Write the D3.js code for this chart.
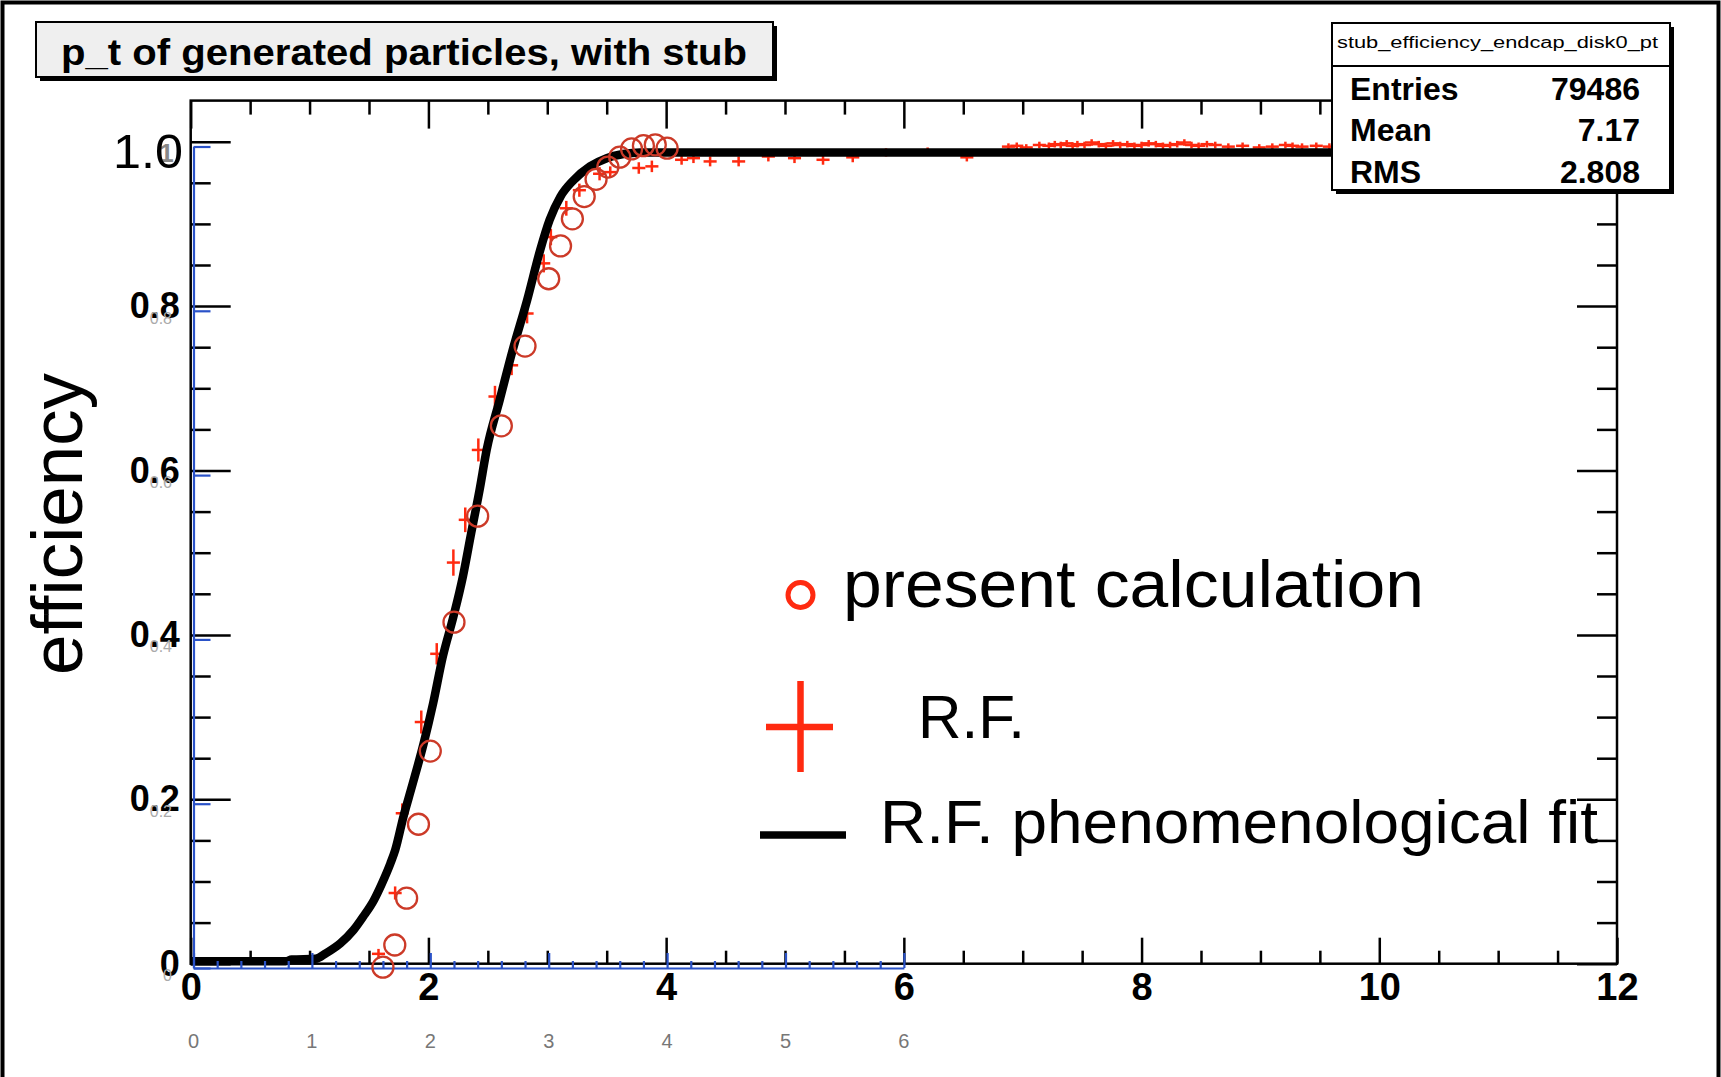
<!DOCTYPE html>
<html lang="en">
<head>
<meta charset="utf-8" />
<title>stub efficiency endcap disk0</title>
<script src="https://d3js.org/d3.v7.min.js"></script>
<style>
    html, body { margin:0; padding:0; overflow:hidden; background-color:#fff }
    svg { display:block }
    text { font-family: "Liberation Sans", Arial, Helvetica, sans-serif }
</style>
</head>
<body>
<svg id="svg" width="1721" height="1077"></svg>
<script>

// present calculation (open circles, overlaid plot with the blue axes)
let calcX = [1.6, 1.7, 1.8, 1.9, 2.0, 2.2, 2.4, 2.6, 2.8, 3.0, 3.1, 3.2, 3.3, 3.4, 3.5, 3.6, 3.7, 3.8, 3.9, 4.0];
let calcY = [0.001, 0.028, 0.085, 0.175, 0.264, 0.421, 0.550, 0.660, 0.757, 0.839, 0.879, 0.912, 0.939, 0.960, 0.975, 0.987, 0.997, 1.001, 1.002, 0.998];

// R.F. histogram (red crosses)
let rfX = [1.58, 1.72, 1.78, 1.94, 2.07, 2.21, 2.31, 2.42, 2.56, 2.70,
           2.83, 2.97, 3.03, 3.16, 3.27, 3.44, 3.53, 3.77, 3.88, 4.13,
           4.23, 4.37, 4.61, 4.86, 5.08, 5.32, 5.57, 5.85, 6.20, 6.53,
           6.88, 6.95, 7.03, 7.14, 7.22, 7.27, 7.32, 7.37, 7.42, 7.46,
           7.52, 7.58, 7.64, 7.70, 7.76, 7.82, 7.88, 7.94, 8.00, 8.06,
           8.12, 8.18, 8.24, 8.30, 8.36, 8.42, 8.48, 8.55, 8.62, 8.73,
           8.85, 8.99, 9.10, 9.21, 9.27, 9.35, 9.47, 9.58];
let rfY = [0.012, 0.086, 0.183, 0.294, 0.377, 0.488, 0.540, 0.625, 0.690, 0.728,
           0.791, 0.852, 0.884, 0.919, 0.941, 0.961, 0.963, 0.968, 0.970, 0.978,
           0.980, 0.976, 0.976, 0.982, 0.980, 0.978, 0.981, 0.987, 0.988, 0.981,
           0.994, 0.995, 0.993, 0.996, 0.995, 0.997, 0.996, 0.998, 0.995, 0.997,
           0.996, 0.999, 0.997, 0.995, 0.998, 0.996, 0.997, 0.995, 0.996, 0.998,
           0.997, 0.995, 0.996, 0.997, 0.999, 0.996, 0.995, 0.997, 0.996, 0.994,
           0.995, 0.993, 0.994, 0.996, 0.995, 0.994, 0.995, 0.994];
let rfErr = [0.006, 0.008, 0.012, 0.014, 0.013, 0.016, 0.015, 0.014, 0.013, 0.012,
             0.012, 0.011, 0.010, 0.009, 0.008, 0.008, 0.007, 0.007, 0.007, 0.006,
             0.006, 0.006, 0.006, 0.006, 0.006, 0.006, 0.006, 0.005, 0.005, 0.005,
             0.004, 0.004, 0.004, 0.004, 0.004, 0.004, 0.004, 0.004, 0.004, 0.004,
             0.004, 0.004, 0.004, 0.004, 0.004, 0.004, 0.004, 0.004, 0.004, 0.004,
             0.004, 0.004, 0.004, 0.004, 0.004, 0.004, 0.004, 0.004, 0.004, 0.004,
             0.004, 0.004, 0.004, 0.004, 0.004, 0.004, 0.004, 0.004];
let rfBinHalf = 0.055;

// R.F. phenomenological fit
let fitX = [0, 0.80, 0.85, 1.05, 1.14, 1.26, 1.37, 1.45, 1.54, 1.61, 1.68, 1.72, 1.79, 1.86,
            1.96, 2.04, 2.12, 2.21, 2.29, 2.36, 2.43, 2.49, 2.60, 2.71, 2.83, 2.94, 3.02,
            3.11, 3.22, 3.36, 3.50, 3.64, 3.78, 4.06, 12];
let fitY = [0.003, 0.003, 0.005, 0.006, 0.013, 0.025, 0.041, 0.057, 0.077, 0.098, 0.122, 0.138, 0.179, 0.215,
            0.268, 0.317, 0.373, 0.422, 0.471, 0.524, 0.576, 0.625, 0.686, 0.747, 0.807, 0.868, 0.905,
            0.933, 0.953, 0.970, 0.980, 0.985, 0.987, 0.987, 0.987];

let xMajor = [0, 2, 4, 6, 8, 10, 12];
let xMinor = [0.5, 1, 1.5, 2.5, 3, 3.5, 4.5, 5, 5.5, 6.5, 7, 7.5, 8.5, 9, 9.5, 10.5, 11, 11.5];
let yMajor = [0, 0.2, 0.4, 0.6, 0.8, 1];
let yLabels = ["0", "0.2", "0.4", "0.6", "0.8", "1"];
let yMinor = [0.05, 0.1, 0.15, 0.25, 0.3, 0.35, 0.45, 0.5, 0.55, 0.65, 0.7, 0.75, 0.85, 0.9, 0.95];

let ovXMajor = [0, 1, 2, 3, 4, 5, 6];
let ovXMinor = [0.2, 0.4, 0.6, 0.8, 1.2, 1.4, 1.6, 1.8, 2.2, 2.4, 2.6, 2.8, 3.2, 3.4, 3.6, 3.8, 4.2, 4.4, 4.6, 4.8, 5.2, 5.4, 5.6, 5.8];
let ovYGhost = ["0", "0.2", "0.4", "0.6", "0.8"];

let title = "p_t of generated particles, with stub";
let statsTitle = "stub_efficiency_endcap_disk0_pt";
let statsNames = ["Entries", "Mean", "RMS"];
let statsValues = ["79486", "7.17", "2.808"];
let legendLabels = ["present calculation", "R.F.", "R.F. phenomenological fit"];

let svg = d3.select("svg");
let red = "#ff2a10";
let blue = "#2a52c8";

// outer border
svg.append("rect")
    .attr("x", 2.5).attr("y", 2.5).attr("width", 1716).attr("height", 1110)
    .attr("fill", "none").attr("stroke", "#000").attr("stroke-width", 4);

// ROOT frame
let x = d3.scaleLinear().domain([0, 12]).range([190.7, 1617]);
let y = d3.scaleLinear().domain([0, 1.05]).range([963.7, 100.6]);

let root = svg.append("g");

function ticks(axis, size, vals, fmt) {
    let g = root.append("g").call(axis.tickValues(vals).tickSizeInner(size).tickSizeOuter(0).tickFormat(fmt || ""));
    g.select(".domain").remove();
    g.selectAll("line").attr("stroke", "#000").attr("stroke-width", 2.5);
    return g;
}

let gxb = ticks(d3.axisBottom(x).tickPadding(9), -26, xMajor, d3.format("d"));
gxb.attr("transform", "translate(0," + y(0) + ")");
gxb.selectAll("text").attr("font-size", 38).attr("font-weight", "bold").attr("fill", "#000");
ticks(d3.axisBottom(x), -13, xMinor).attr("transform", "translate(0," + y(0) + ")");
ticks(d3.axisTop(x), -28, xMajor).attr("transform", "translate(0," + y(1.05) + ")");
ticks(d3.axisTop(x), -14, xMinor).attr("transform", "translate(0," + y(1.05) + ")");

let gyl = ticks(d3.axisLeft(y).tickPadding(11), -40, yMajor, (d, i) => yLabels[i]);
gyl.attr("transform", "translate(" + x(0) + ",0)");
gyl.selectAll("text").attr("font-size", 36).attr("font-weight", "bold").attr("fill", "#000");
// the "1" label sits under the hand-written "1.0"
gyl.selectAll("text").filter(d => d === 1)
    .attr("font-size", 26).attr("fill", "#888").attr("x", -17).attr("dy", "0.75em");
ticks(d3.axisLeft(y), -20, yMinor).attr("transform", "translate(" + x(0) + ",0)");
ticks(d3.axisRight(y), -40, yMajor).attr("transform", "translate(" + x(12) + ",0)");
ticks(d3.axisRight(y), -20, yMinor).attr("transform", "translate(" + x(12) + ",0)");

root.append("rect")
    .attr("x", x(0)).attr("y", y(1.05))
    .attr("width", x(12) - x(0)).attr("height", y(0) - y(1.05))
    .attr("fill", "none").attr("stroke", "#000").attr("stroke-width", 2.5);

// R.F. crosses
let rf = rfX.map((d, i) => ({x: d, y: rfY[i], e: rfErr[i]}));
let cross = root.append("g").attr("stroke", red).attr("stroke-width", 2.5);
cross.selectAll(".h").data(rf).join("line")
    .attr("x1", d => x(d.x - rfBinHalf)).attr("x2", d => x(d.x + rfBinHalf))
    .attr("y1", d => y(d.y)).attr("y2", d => y(d.y));
cross.selectAll(".v").data(rf).join("line")
    .attr("x1", d => x(d.x)).attr("x2", d => x(d.x))
    .attr("y1", d => y(d.y - d.e)).attr("y2", d => y(d.y + d.e));

// fit curve
let fit = fitX.map((d, i) => [d, fitY[i]]);
root.append("path")
    .attr("d", d3.line().x(d => x(d[0])).y(d => y(d[1])).curve(d3.curveMonotoneX)(fit))
    .attr("fill", "none").attr("stroke", "#000").attr("stroke-width", 8.5);

// title box
svg.append("rect").attr("x", 40).attr("y", 26).attr("width", 737).attr("height", 55).attr("fill", "#000");
svg.append("rect").attr("x", 36).attr("y", 22).attr("width", 737).attr("height", 55)
    .attr("fill", "#efefef").attr("stroke", "#000").attr("stroke-width", 2);
svg.append("text").attr("x", 61).attr("y", 65)
    .attr("font-size", 36).attr("font-weight", "bold")
    .attr("textLength", 686).attr("lengthAdjust", "spacingAndGlyphs")
    .text(title);

// stats box
svg.append("rect").attr("x", 1336).attr("y", 27).attr("width", 338).attr("height", 167).attr("fill", "#000");
svg.append("rect").attr("x", 1332).attr("y", 23).attr("width", 338).attr("height", 167)
    .attr("fill", "#fff").attr("stroke", "#000").attr("stroke-width", 2);
svg.append("line").attr("x1", 1332).attr("x2", 1670).attr("y1", 66).attr("y2", 66)
    .attr("stroke", "#000").attr("stroke-width", 2);
svg.append("text").attr("x", 1337).attr("y", 48).attr("font-size", 16)
    .attr("textLength", 321).attr("lengthAdjust", "spacingAndGlyphs")
    .text(statsTitle);
let rowY = [100, 141, 183];
svg.selectAll(".sname").data(statsNames).join("text")
    .attr("x", 1350).attr("y", (d, i) => rowY[i])
    .attr("font-size", 32).attr("font-weight", "bold").text(d => d);
svg.selectAll(".sval").data(statsValues).join("text")
    .attr("x", 1640).attr("y", (d, i) => rowY[i]).attr("text-anchor", "end")
    .attr("font-size", 32).attr("font-weight", "bold").text(d => d);

// overlaid plot: blue axes
let bx = d3.scaleLinear().domain([0, 6]).range([193.5, 903.9]);
let by = d3.scaleLinear().domain([0, 1]).range([968, 146.5]);
let ov = svg.append("g");

function bticks(axis, size, vals) {
    let g = ov.append("g").call(axis.tickValues(vals).tickSizeInner(size).tickSizeOuter(0).tickFormat(""));
    g.selectAll("path,line").attr("stroke", blue).attr("stroke-width", 2.2);
    return g;
}
bticks(d3.axisBottom(bx), -15, ovXMajor).attr("transform", "translate(0," + by(0) + ")");
bticks(d3.axisBottom(bx), -7, ovXMinor).attr("transform", "translate(0," + by(0) + ")").select(".domain").remove();
bticks(d3.axisLeft(by), -17, yMajor).attr("transform", "translate(" + bx(0) + ",0)");

ov.selectAll(".gx").data(ovXMajor).join("text")
    .attr("x", d => bx(d)).attr("y", 1048).attr("text-anchor", "middle")
    .attr("font-size", 20).attr("fill", "#777").text(d => d);
ov.selectAll(".gy").data(ovYGhost).join("text")
    .attr("x", 172).attr("y", (d, i) => by(yMajor[i]) + 13).attr("text-anchor", "end")
    .attr("font-size", 16).attr("fill", "#aaa").text(d => d);

// present calculation circles
let calc = calcX.map((d, i) => [d, calcY[i]]);
ov.selectAll(".calc").data(calc).join("circle")
    .attr("cx", d => bx(d[0])).attr("cy", d => by(d[1])).attr("r", 10.5)
    .attr("fill", "none").attr("stroke", "#cc3a28").attr("stroke-width", 2.3);

// hand-written annotations
svg.append("text").attr("x", 113).attr("y", 168).attr("font-size", 49)
    .attr("textLength", 70).attr("lengthAdjust", "spacingAndGlyphs").text("1.0");
svg.append("text").attr("transform", "translate(82,524) rotate(-90)")
    .attr("text-anchor", "middle").attr("font-size", 72)
    .attr("textLength", 302).attr("lengthAdjust", "spacingAndGlyphs").text("efficiency");

// legend
let leg = svg.append("g");
leg.append("circle").attr("cx", 800.5).attr("cy", 595).attr("r", 12.5)
    .attr("fill", "none").attr("stroke", red).attr("stroke-width", 5);
leg.append("line").attr("x1", 766).attr("x2", 833).attr("y1", 727).attr("y2", 727)
    .attr("stroke", red).attr("stroke-width", 6.5);
leg.append("line").attr("x1", 800.5).attr("x2", 800.5).attr("y1", 681).attr("y2", 772)
    .attr("stroke", red).attr("stroke-width", 6.5);
leg.append("line").attr("x1", 760).attr("x2", 846).attr("y1", 835).attr("y2", 835)
    .attr("stroke", "#000").attr("stroke-width", 7.5);
let legPos = [[843, 607, 581, 66], [918, 738, 107, 62], [880, 843, 718, 62]];
leg.selectAll(".lt").data(legendLabels).join("text")
    .attr("x", (d, i) => legPos[i][0]).attr("y", (d, i) => legPos[i][1])
    .attr("textLength", (d, i) => legPos[i][2]).attr("lengthAdjust", "spacingAndGlyphs")
    .attr("font-size", (d, i) => legPos[i][3]).text(d => d);

</script>
</body>
</html>
